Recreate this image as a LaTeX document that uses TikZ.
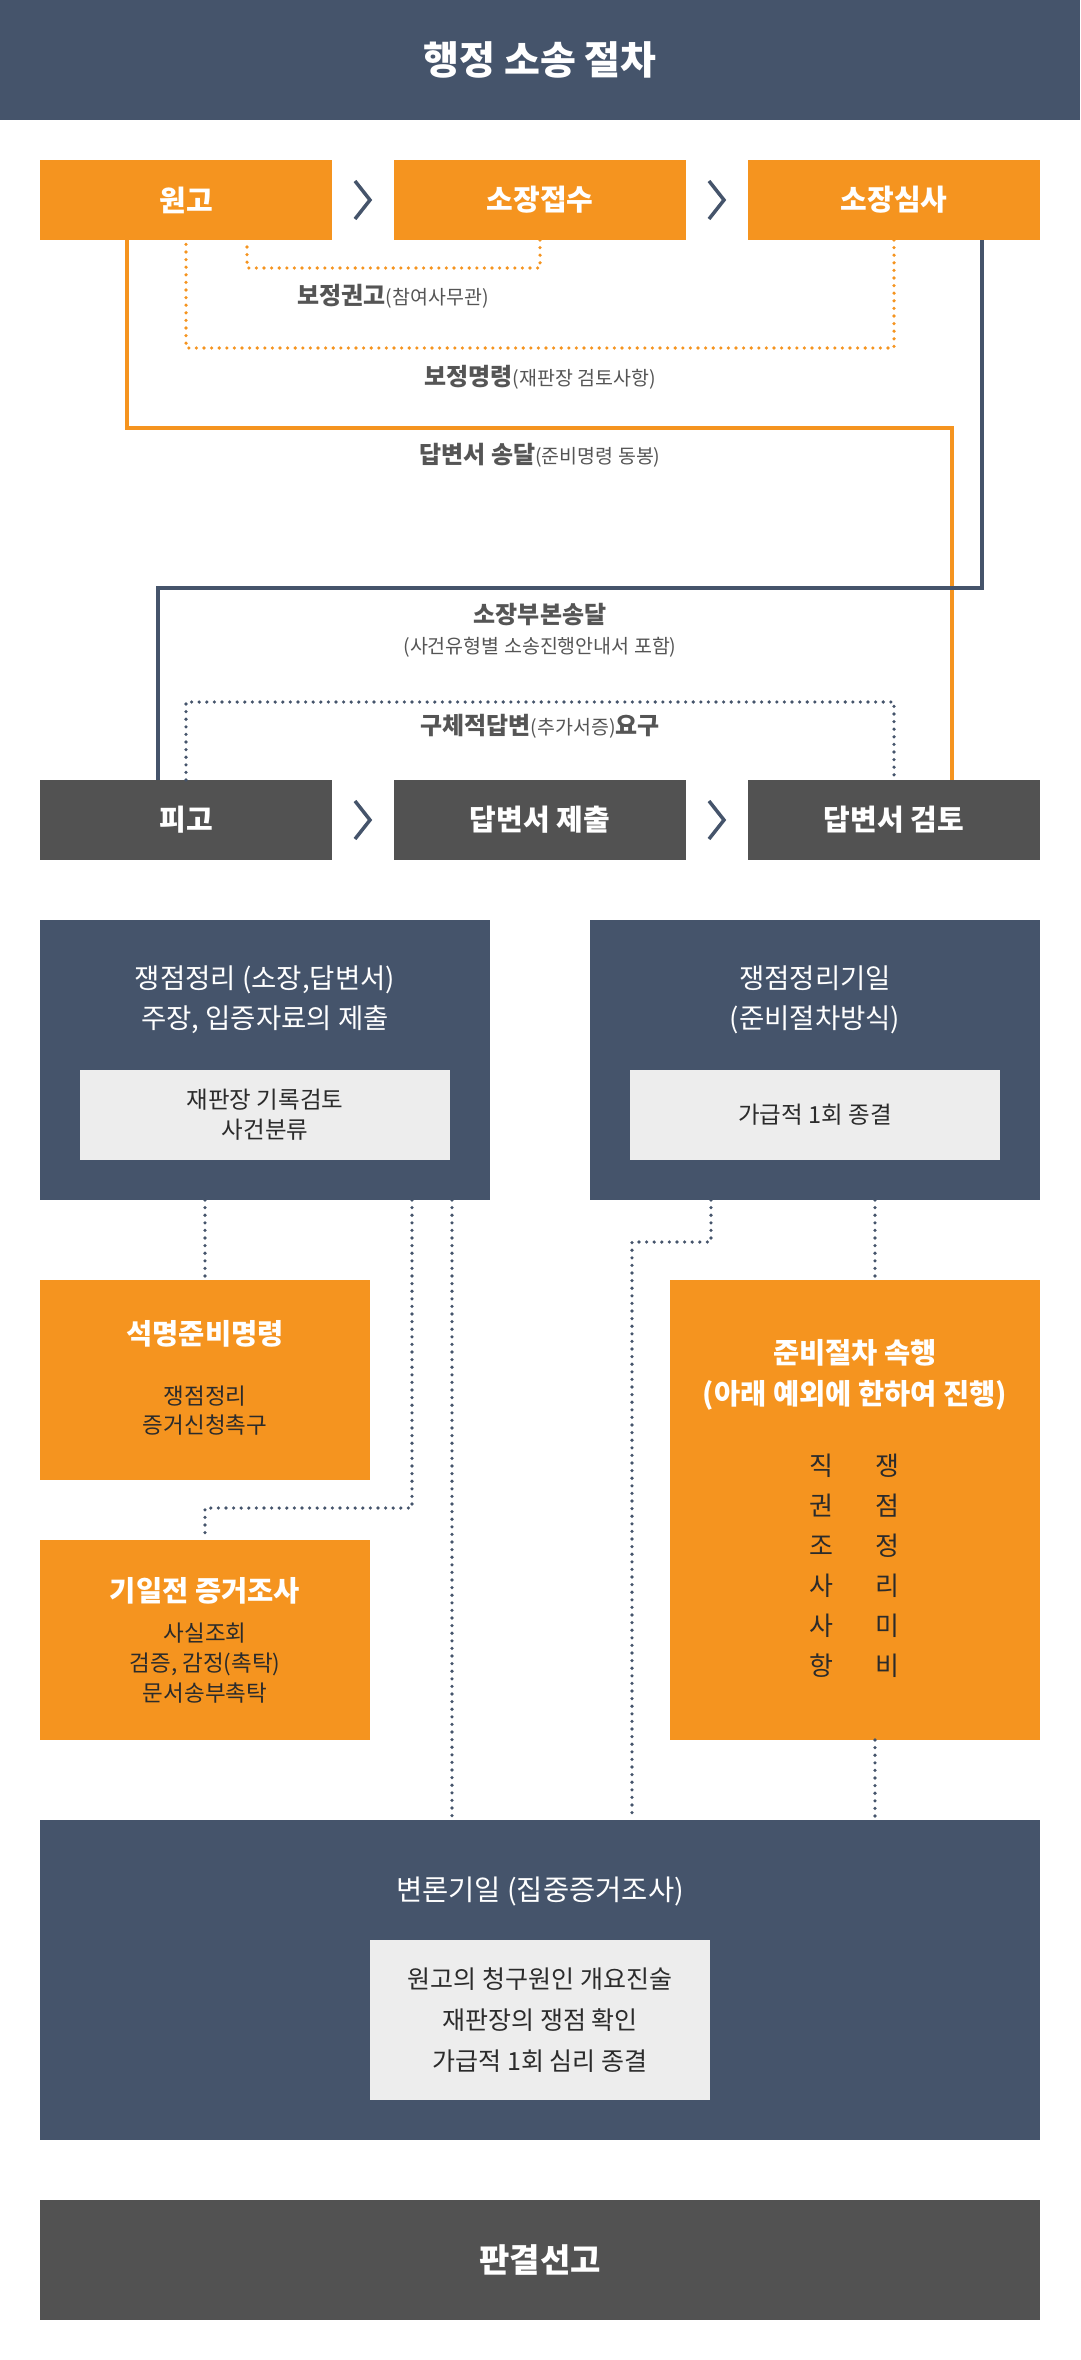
\documentclass[tikz,border=0pt]{standalone}
\usepackage{fontspec}
\setmainfont{Noto Sans CJK KR}
\usetikzlibrary{positioning,calc}
\definecolor{Navy}{HTML}{45546B}
\definecolor{Orange}{HTML}{F5941F}
\definecolor{Darkgray}{HTML}{525252}
\definecolor{Lightgray}{HTML}{EDEDED}
\definecolor{Labelgray}{HTML}{555555}
\definecolor{Ink}{HTML}{2B2B2B}
\newcommand{\smalltxt}[1]{{\mdseries\fontsize{19.5}{22}\selectfont #1}}

\begin{document}
\begin{tikzpicture}
[x=1pt,y=-1pt,
every node/.style={inner sep=0pt,outer sep=0pt},
box/.style={rectangle,minimum width=292,minimum height=80,text=white,font=\bfseries\fontsize{29}{34}\selectfont},
obox/.style={box,fill=Orange},
gbox/.style={box,fill=Darkgray},
panel/.style={rectangle,fill=Navy},
ptitle/.style={text=white,align=center,font=\fontsize{27.5}{40}\selectfont},
otitle/.style={text=white,align=center,font=\bfseries\fontsize{28.5}{41}\selectfont},
otext/.style={text=Ink,align=center,font=\fontsize{22.5}{30}\selectfont},
notebox/.style={rectangle,fill=Lightgray,text=Ink,align=center,font=\fontsize{23.5}{30}\selectfont},
lbl/.style={text=Labelgray,font=\bfseries\fontsize{24}{28}\selectfont,align=center},
sublbl/.style={text=Labelgray,font=\fontsize{19.5}{22}\selectfont},
chev/.style={Navy,line width=3.5,line join=miter},
orline/.style={Orange,line width=4},
nvline/.style={Navy,line width=4},
dotor/.style={Orange,line width=3.6,line cap=round,dash pattern=on 0pt off 7.6pt},
dotnv/.style={Navy,line width=3.6,line cap=round,dash pattern=on 0pt off 7.6pt}]

\useasboundingbox (0,0) rectangle (1080,2360);

\node[rectangle,fill=Navy,minimum width=1080,minimum height=120,text=white,
font=\bfseries\fontsize{39}{44}\selectfont] (title) at (540,60) {행정 소송 절차};

%% plaintiff side
\node[obox] (wongo) at (186,200) {원고};
\node[obox,right=62pt of wongo] (jeopsu) {소장접수};
\node[obox,right=62pt of jeopsu] (simsa) {소장심사};
\draw[chev] ($(wongo.east)!.5!(jeopsu.west)$) ++(-8,-19) -- ++(15,19) -- ++(-15,19);
\draw[chev] ($(jeopsu.east)!.5!(simsa.west)$) ++(-8,-19) -- ++(15,19) -- ++(-15,19);

%% defendant side
\node[gbox] (pigo) at (186,820) {피고};
\node[gbox,right=62pt of pigo] (submit) {답변서 제출};
\node[gbox,right=62pt of submit] (review) {답변서 검토};
\draw[chev] ($(pigo.east)!.5!(submit.west)$) ++(-8,-19) -- ++(15,19) -- ++(-15,19);
\draw[chev] ($(submit.east)!.5!(review.west)$) ++(-8,-19) -- ++(15,19) -- ++(-15,19);

%% connectors between the two rows
\draw[dotor] (jeopsu.south) -- ++(0,28) -| ([xshift=61]wongo.south);
\node[lbl] (bojeong) at (393,296) {보정권고\smalltxt{(참여사무관)}};
\draw[dotor] (simsa.south) -- ++(0,108) -| (wongo.south);
\node[lbl] (myeong) at (540,377) {보정명령\smalltxt{(재판장 검토사항)}};
\draw[orline] ([xshift=-59]wongo.south) -- ++(0,188) -| ([xshift=58]review.north);
\node[lbl] (songdal) at (540,455) {답변서 송달\smalltxt{(준비명령 동봉)}};
\draw[nvline] ([xshift=88]simsa.south) -- ++(0,348) -| ([xshift=-28]pigo.north);
\node[lbl] (bubon) at (540,615) {소장부본송달};
\node[sublbl] (bubonsub) at (540,647) {(사건유형별 소송진행안내서 포함)};
\draw[dotnv] (pigo.north) -- ++(0,-78) -| (review.north);
\node[lbl] (yogu) at (540,726) {구체적답변\smalltxt{(추가서증)}요구};

%% issue panels
\node[panel,minimum width=450,minimum height=280] (issue1) at (265,1060) {};
\node[ptitle] (t1) at (265,1000) {쟁점정리 (소장,답변서)\\주장, 입증자료의 제출};
\node[notebox,minimum width=370,minimum height=90] (n1) at (265,1115) {재판장 기록검토\\사건분류};
\node[panel,minimum width=450,minimum height=280] (issue2) at (815,1060) {};
\node[ptitle] (t2) at (815,1000) {쟁점정리기일\\(준비절차방식)};
\node[notebox,minimum width=370,minimum height=90] (n2) at (815,1115) {가급적 1회 종결};

%% preparatory steps
\node[obox,minimum width=330,minimum height=200] (sukmyung) at (205,1380) {};
\node[otitle] (st) at (205,1334) {석명준비명령};
\node[otext,font=\fontsize{22.5}{29}\selectfont] (ss) at (205,1411) {쟁점정리\\증거신청촉구};
\node[obox,minimum width=330,minimum height=200] (giiljeon) at (205,1640) {};
\node[otitle] (gt) at (205,1591) {기일전 증거조사};
\node[otext] (gs) at (205,1663) {사실조회\\검증, 감정(촉탁)\\문서송부촉탁};
\node[obox,minimum width=370,minimum height=460] (junbi) at (855,1510) {};
\node[otitle] (jt) at (855,1375) {준비절차 속행\\(아래 예외에 한하여 진행)};
\node[otext,font=\fontsize{26}{40}\selectfont] (jc1) at (821,1566) {직\\권\\조\\사\\사\\항};
\node[otext,font=\fontsize{26}{40}\selectfont] (jc2) at (887,1566) {쟁\\점\\정\\리\\미\\비};

%% hearing and judgment
\node[panel,minimum width=1000,minimum height=320] (byeonron) at (540,1980) {};
\node[ptitle,font=\fontsize{28.5}{34}\selectfont] (bt) at (540,1891) {변론기일 (집중증거조사)};
\node[notebox,minimum width=340,minimum height=160,font=\fontsize{25}{41}\selectfont] (n3) at (540,2020)
{원고의 청구원인 개요진술\\재판장의 쟁점 확인\\가급적 1회 심리 종결};
\node[gbox,minimum width=1000,minimum height=120,font=\bfseries\fontsize{33}{38}\selectfont] (pangyeol) at (540,2260) {판결선고};

%% dotted links
\coordinate (c1) at ([xshift=-38]issue1.south east);
\coordinate (c2) at ([xshift=-104]issue2.south);
\coordinate (c3) at ([xshift=20]junbi.south);
\draw[dotnv] (issue1.south -| sukmyung.north) -- (sukmyung.north);
\draw[dotnv] ([xshift=-78]issue1.south east) -- ++(0,308) -| (giiljeon.north);
\draw[dotnv] (c1) -- (c1 |- byeonron.north);
\draw[dotnv] (c2) -- ++(0,42) -| ([xshift=92]byeonron.north);
\draw[dotnv] ([xshift=60]issue2.south) -- ([xshift=20]junbi.north);
\draw[dotnv] (c3) -- (c3 |- byeonron.north);

\end{tikzpicture}
\end{document}
